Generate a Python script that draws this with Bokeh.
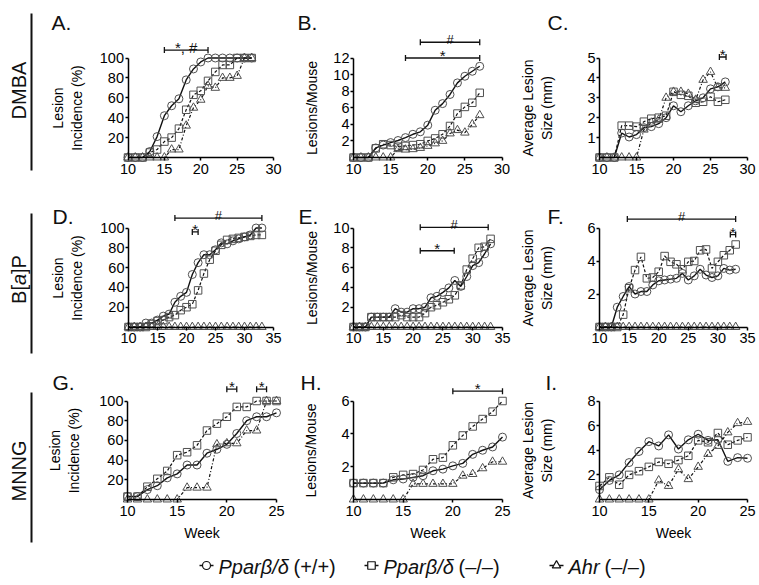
import math
from bokeh.plotting import figure
from bokeh.models import Range1d, FixedTicker
from bokeh.layouts import column, row
from bokeh.embed import file_html
from bokeh.resources import INLINE
from bokeh.core.properties import value

FONT = "Liberation Sans"

# ---------------- data ----------------
weeks_dmba = list(range(10, 28))
weeks_bap = list(range(10, 34))
weeks_mnng = list(range(10, 26))

A_wt = [0, 0, 0, 6, 21, 42, 52, 59, 78, 89, 96, 100, 100, 100, 100, 100, 100, 100]
A_ko = [0, 0, 0, 5, 8, 16, 20, 29, 48, 63, 67, 77, 86, 93, 93, 100, 100, 100]
A_ahr = [0, 0, 0, 0, 0, 0, 8, 8, 32, 50, 58, 72, 70, 80, 80, 82, 100, 100]

B_wt = [0, 0, 0, 1.15, 1.5, 1.8, 2.05, 2.4, 2.8, 3.1, 3.9, 5.7, 6.5, 7.6, 9.0, 9.8, 10.4, 11.0]
B_ko = [0, 0, 0, 1.1, 1.6, 1.5, 1.3, 1.4, 1.5, 1.6, 2.0, 2.3, 2.8, 3.8, 5.3, 6.1, 6.6, 7.8]
B_ahr = [0, 0, 0, 0, 0, 0, 1.0, 0.95, 1.0, 1.15, 1.4, 1.7, 2.0, 2.9, 3.3, 3.0, 4.0, 5.1]

C_wt = [0, 0, 0, 1.23, 1.03, 1.15, 1.5, 1.55, 1.7, 2.0, 2.6, 2.3, 2.6, 2.85, 3.0, 3.45, 3.55, 3.8]
C_ko = [0, 0, 0, 1.6, 1.6, 1.55, 1.8, 1.95, 2.0, 2.1, 3.3, 3.15, 3.1, 2.75, 2.8, 3.05, 2.8, 2.9]
C_ahr = [0, 0, 0, 0, 0, 0, 1.4, 1.75, 1.9, 3.0, 3.3, 3.3, 3.2, 2.9, 3.9, 4.3, 3.5, 3.5]

D_wt = [0, 0, 0, 4, 4, 7, 11, 13, 25, 31, 35, 53, 65, 73, 73, 78, 85, 84, 87, 89, 91, 93, 100, 100]
D_ko = [0, 0, 0, 0, 3, 6, 7, 10, 12, 17, 20, 23, 37, 54, 68, 77, 83, 88, 89, 90, 91, 92, 93, 93]
D_ahr = [0] * 24

E_wt = [0, 0, 0, 1.0, 1.0, 1.0, 1.0, 1.85, 1.5, 1.5, 1.85, 1.85, 2.0, 2.95, 3.1, 3.5, 3.95, 4.7,
        4.1, 5.1, 6.2, 6.5, 7.4, 8.4]
E_ko = [0, 0, 0, 1.0, 1.0, 1.0, 1.0, 1.0, 1.2, 1.0, 1.0, 1.0, 1.4, 2.0, 2.2, 2.5, 2.8, 3.2,
        4.2, 5.8, 6.9, 8.0, 8.1, 8.9]
E_ahr = [0] * 24

F_wt = [0, 0, 0, 1.2, 1.85, 2.45, 2.0, 2.15, 2.15, 2.55, 2.8, 2.85, 2.9, 2.95, 3.25, 2.85, 3.1,
        3.5, 3.15, 3.0, 3.1, 3.55, 3.45, 3.5]
F_ko = [0, 0, 0, 0, 0.75, 2.35, 3.45, 4.25, 2.95, 3.0, 3.35, 4.3, 3.95, 3.8, 3.5, 3.95, 4.0,
        4.65, 4.7, 3.55, 3.95, 4.35, 4.65, 5.0]
F_ahr = [0] * 24

G_wt = [3, 3, 10, 14, 22, 26, 35, 35, 47, 51, 56, 67, 80, 84, 84, 88]
G_ko = [3, 3, 13, 21, 29, 45, 48, 55, 70, 77, 84, 94, 94, 100, 100, 100]
G_ahr = [0, 0, 0, 0, 0, 0, 12, 12, 12, 56, 57, 57, 70, 70, 100, 100]

H_wt = [1.0, 1.0, 1.0, 1.0, 1.2, 1.25, 1.35, 1.45, 1.75, 1.85, 2.05, 2.2, 2.75, 3.0, 3.2, 3.8]
H_ko = [1.0, 1.0, 1.0, 1.0, 1.35, 1.5, 1.55, 1.8, 2.45, 2.55, 3.3, 3.9, 4.45, 4.9, 5.35, 6.0]
H_ahr = [0, 0, 0, 0, 0, 0, 0.95, 0.95, 0.95, 0.95, 0.95, 1.45, 1.55, 1.9, 2.3, 2.3]

I_wt = [0.8, 1.55, 2.0, 3.0, 3.9, 4.7, 4.35, 5.25, 4.1, 4.85, 5.3, 4.8, 4.85, 3.1, 3.4, 3.35]
I_ko = [1.1, 1.8, 1.2, 2.0, 2.3, 2.65, 3.05, 2.9, 3.2, 3.55, 4.8, 4.65, 5.4, 4.45, 4.8, 5.05]
I_ahr = [0, 0, 0, 0, 0, 0, 1.55, 1.1, 2.45, 1.65, 2.65, 3.7, 4.35, 5.45, 6.2, 6.3]

x_ticks_dmba = [10, 15, 20, 25, 30]
x_ticks_bap = [10, 15, 20, 25, 30, 35]
x_ticks_mnng = [10, 15, 20, 25]
y_ticks_inc = [20, 40, 60, 80, 100]
y_ticks_B = [2, 4, 6, 8, 10, 12]
y_ticks_C = [1, 2, 3, 4, 5]
y_ticks_E = [2, 4, 6, 8, 10]
y_ticks_F = [2, 4, 6]
y_ticks_H = [2, 4, 6]
y_ticks_I = [2, 4, 6, 8]

# significance brackets: (week start, week end, level, label)
sig_A = [(15, 21, 108, "*, #")]
sig_B = [(19, 27, 13.9, "#"), (17, 27, 12.0, "*")]
sig_C = [(26.2, 27.1, 5.05, "*")]
sig_D = [(18, 33, 110, "#"), (21, 22, 96, "*")]
sig_E = [(21.2, 32.6, 10.07, "#"), (21.2, 26.9, 7.7, "*")]
sig_F = [(14.7, 33, 6.54, "#"), (32.1, 33, 5.6, "*")]
sig_G = [(20, 21, 112, "*"), (23, 24, 112, "*")]
sig_H = [(20, 25, 6.6, "*")]
sig_I = []

# ---------------- layout (reference pixels) ----------------
ROWS = {1: dict(cy0=0, ch=190, y0=157, ytop=57.5, letter_y=22),
        2: dict(cy0=190, ch=170, y0=326.5, ytop=227.5, letter_y=216),
        3: dict(cy0=360, ch=187, y0=499, ytop=400.5, letter_y=382)}
COLS = {1: dict(cx0=0, cw=290), 2: dict(cx0=290, cw=230), 3: dict(cx0=520, cw=239)}
AXX = {"A": (127.5, 273), "B": (353, 501.5), "C": (599, 747),
       "D": (128, 273), "E": (353, 502), "F": (599, 747),
       "G": (127, 276), "H": (353, 502), "I": (599, 747)}
LETTER_X = {"A": 51, "B": 297, "C": 547, "D": 52, "E": 298, "F": 547,
            "G": 52, "H": 300, "I": 545}
LABEL_STANDOFF = {"A": 12, "B": 10, "C": 29, "D": 12, "E": 10, "F": 29,
                  "G": 14, "H": 19, "I": 29}

INK = "#111111"
MARK = "#505050"


def make_panel(key, rw, cl, weeks, wt, ko, ahr, xmax, ymax, xt, yt, ylabel, sig,
               xlabel=None, rowlabel=None):
    r = ROWS[rw]
    c = COLS[cl]
    x0px, x1px = AXX[key]
    ppx = (x1px - x0px) / (xmax - 10)
    ppy = (r["y0"] - r["ytop"]) / ymax

    def X(px):
        return 10 + (px - x0px) / ppx

    def Y(py):
        return (r["y0"] - py) / ppy

    p = figure(width=c["cw"], height=r["ch"],
               x_range=Range1d(X(c["cx0"]), X(c["cx0"] + c["cw"])),
               y_range=Range1d(Y(r["cy0"] + r["ch"]), Y(r["cy0"])),
               output_backend="svg", toolbar_location=None, min_border=0, title=None)
    p.xgrid.visible = False
    p.ygrid.visible = False
    p.outline_line_color = None

    # series
    p.line(weeks, wt, line_color=INK, line_width=1.4)
    p.line(weeks, ahr, line_color=INK, line_width=1.2, line_dash="3 2 1 2")
    p.line(weeks, ko, line_color=INK, line_width=1.2, line_dash="3 2")
    p.scatter(weeks, wt, marker="circle", size=8, fill_color=None, line_color=MARK, line_width=1)
    p.scatter(weeks, ahr, marker="triangle", size=8.5, fill_color=None, line_color=MARK, line_width=1)
    p.scatter(weeks, ko, marker="square", size=7.5, fill_color=None, line_color=MARK, line_width=1)

    # axes
    p.xaxis.fixed_location = 0
    p.yaxis.fixed_location = 10
    p.xaxis.bounds = (10, xmax)
    p.yaxis.bounds = (0, ymax)
    p.xaxis.ticker = FixedTicker(ticks=xt)
    p.yaxis.ticker = FixedTicker(ticks=yt)
    for ax in list(p.xaxis) + list(p.yaxis):
        ax.axis_line_color = "black"
        ax.axis_line_width = 1.5
        ax.major_tick_line_color = "black"
        ax.major_tick_line_width = 1.5
        ax.major_tick_in = 0
        ax.major_tick_out = 3
        ax.minor_tick_line_color = None
        ax.major_label_text_font = FONT
        ax.major_label_text_font_size = "14.5px"
        ax.major_label_text_color = "black"
        ax.major_label_standoff = 1
        ax.axis_label_text_font = FONT
        ax.axis_label_text_font_size = "14px"
        ax.axis_label_text_font_style = "normal"
        ax.axis_label_text_color = "black"
    p.xaxis.major_label_standoff = 3
    p.yaxis.axis_label = ylabel
    p.yaxis.axis_label_standoff = LABEL_STANDOFF[key]
    if xlabel:
        p.xaxis.axis_label = xlabel
        p.xaxis.axis_label_standoff = 6

    # significance brackets
    d = 3 / ppy
    for xa, xb, yv, txt in sig:
        p.segment(x0=[xa, xa, xb], y0=[yv, yv - d, yv - d], x1=[xb, xa, xb], y1=[yv, yv + d, yv + d],
                  line_color=INK, line_width=1.3)
        p.text(x=[(xa + xb) / 2], y=[yv + 2.5 / ppy], text=[txt], text_align="center",
               text_baseline="alphabetic", text_font=value(FONT),
               text_font_size="15px" if "*" in txt else "13px", text_color=INK)

    # panel letter
    p.text(x=[X(LETTER_X[key])], y=[Y(r["letter_y"])], text=[key + "."], text_align="left",
           text_baseline="alphabetic", text_font=value(FONT), text_font_size="21px",
           text_color=INK)

    # row label
    if rowlabel:
        parts, y_lo, y_hi, y_mid = rowlabel
        p.segment(x0=[X(31)], y0=[Y(y_lo)], x1=[X(31)], y1=[Y(y_hi)], line_color=INK, line_width=2)
        widths = [w for _, _, w in parts]
        start = y_mid + sum(widths) / 2
        for txt, style, w in parts:
            p.text(x=[X(18)], y=[Y(start)], text=[txt], angle=math.pi / 2, text_align="left",
                   text_baseline="middle", text_font=value(FONT), text_font_size="20px",
                   text_font_style=style, text_color=INK)
            start -= w
    return p


pA = make_panel("A", 1, 1, weeks_dmba, A_wt, A_ko, A_ahr, 30, 100, x_ticks_dmba, y_ticks_inc,
                "Lesion\nIncidence (%)", sig_A,
                rowlabel=([("DMBA", "normal", 57.8)], 13, 170, 90))
pB = make_panel("B", 1, 2, weeks_dmba, B_wt, B_ko, B_ahr, 30, 12, x_ticks_dmba, y_ticks_B,
                "Lesions/Mouse", sig_B)
pC = make_panel("C", 1, 3, weeks_dmba, C_wt, C_ko, C_ahr, 30, 5, x_ticks_dmba, y_ticks_C,
                "Average Lesion\nSize (mm)", sig_C)
pD = make_panel("D", 2, 1, weeks_bap, D_wt, D_ko, D_ahr, 35, 100, x_ticks_bap, y_ticks_inc,
                "Lesion\nIncidence (%)", sig_D,
                rowlabel=([("B[", "normal", 18.9), ("a", "italic", 11.1), ("]P", "normal", 18.9)],
                          213, 353, 279))
pE = make_panel("E", 2, 2, weeks_bap, E_wt, E_ko, E_ahr, 35, 10, x_ticks_bap, y_ticks_E,
                "Lesions/Mouse", sig_E)
pF = make_panel("F", 2, 3, weeks_bap, F_wt, F_ko, F_ahr, 35, 6, x_ticks_bap, y_ticks_F,
                "Average Lesion\nSize (mm)", sig_F)
pG = make_panel("G", 3, 1, weeks_mnng, G_wt, G_ko, G_ahr, 25, 100, x_ticks_mnng, y_ticks_inc,
                "Lesion\nIncidence (%)", sig_G, xlabel="Week",
                rowlabel=([("MNNG", "normal", 62)], 392, 542, 470))
pH = make_panel("H", 3, 2, weeks_mnng, H_wt, H_ko, H_ahr, 25, 6, x_ticks_mnng, y_ticks_H,
                "Lesions/Mouse", sig_H, xlabel="Week")
pI = make_panel("I", 3, 3, weeks_mnng, I_wt, I_ko, I_ahr, 25, 8, x_ticks_mnng, y_ticks_I,
                "Average Lesion\nSize (mm)", sig_I, xlabel="Week")

# ---------------- legend ----------------
leg = figure(width=759, height=38, x_range=Range1d(0, 759), y_range=Range1d(585, 547),
             output_backend="svg", toolbar_location=None, min_border=0, title=None)
leg.axis.visible = False
leg.xgrid.visible = False
leg.ygrid.visible = False
leg.outline_line_color = None

legend_items = [("circle", 8, 206, "Pparβ/δ", 75, "(+/+)"),
                ("square", 7.5, 371, "Pparβ/δ", 75, "(–/–)"),
                ("triangle", 8.5, 556, "Ahr", 36, "(–/–)")]
LEG_Y = 565
for marker, size, mx, gene, gap, geno in legend_items:
    leg.segment(x0=[mx - 7], y0=[LEG_Y], x1=[mx + 7], y1=[LEG_Y], line_color=INK, line_width=1.3)
    leg.scatter([mx], [LEG_Y], marker=marker, size=size, fill_color="white", line_color=INK,
                line_width=1.2)
    leg.text(x=[mx + 12], y=[LEG_Y + 1], text=[gene], text_align="left", text_baseline="middle",
             text_font=value(FONT), text_font_size="20px", text_font_style="italic", text_color=INK)
    leg.text(x=[mx + 12 + gap], y=[LEG_Y + 1], text=[geno], text_align="left",
             text_baseline="middle", text_font=value(FONT), text_font_size="20px",
             text_color=INK)

layout = column(row(pA, pB, pC), row(pD, pE, pF), row(pG, pH, pI), leg)
open("out.html", "w").write(file_html(layout, INLINE))
